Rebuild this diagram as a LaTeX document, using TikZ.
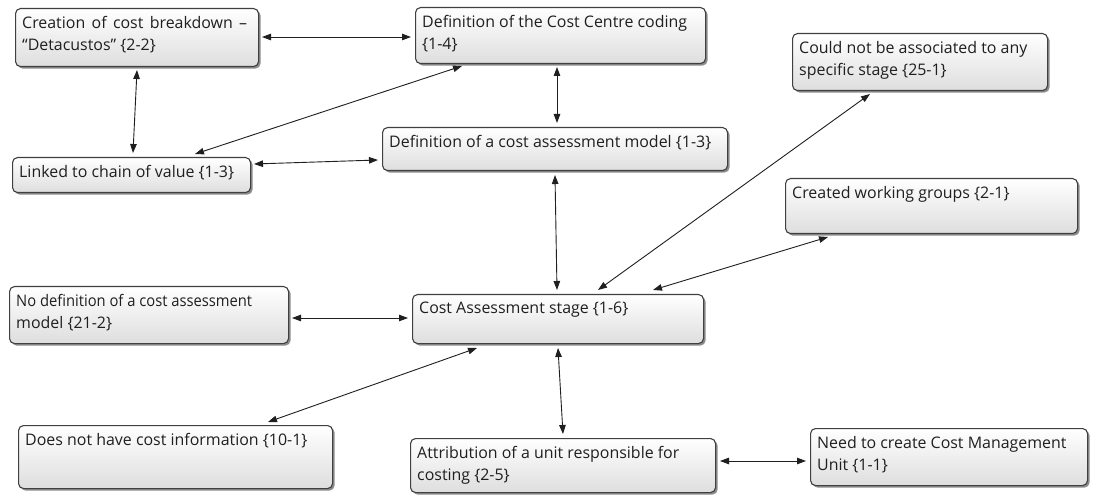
\documentclass[tikz,border=0pt]{standalone}
\usepackage{fontspec}
\setmainfont{Open Sans}
\usetikzlibrary{arrows.meta,shadows}
\tikzset{
  box/.style={draw=black!75, line width=1.1bp, rounded corners=5bp,
    top color=white, bottom color=black!13, inner sep=0pt, anchor=north west,
    drop shadow={shadow xshift=2bp, shadow yshift=-2bp, fill=black!60, opacity=0.75}},
  lbl/.style={anchor=north west, inner sep=0pt, align=left, text=black!88,
    font=\fontsize{16}{22}\selectfont},
  link/.style={{Triangle[length=9bp,width=6.5bp]}-{Triangle[length=9bp,width=6.5bp]},
    line width=0.9bp, draw=black!88},
}
% name, left, top, width, height, text
\newcommand\cbox[6]{%
  \node[box, minimum width=#4bp, minimum height=#5bp] (#1) at (#2,#3) {};
  \node[lbl] (#1-t) at ([shift={(7,8)}]#1.north west) {#6};
}
\begin{document}
\begin{tikzpicture}[x=1bp,y=-1bp]
\useasboundingbox[fill=white] (0,0) rectangle (1095,499);

\cbox{crea}{15}{8}{243}{58}{\makebox[225bp][s]{Creation of cost breakdown --}\\``Detacustos'' \{2-2\}}
\cbox{link}{12}{157}{238}{35}{Linked to chain of value \{1-3\}}
\cbox{ccc}{415}{7}{290}{56}{Definition of the Cost Centre coding\\\{1-4\}}
\cbox{dcam}{382}{127}{345}{43}{Definition of a cost assessment model \{1-3\}}
\cbox{cnb}{792}{33}{255}{57}{Could not be associated to any\\specific stage \{25-1\}}
\cbox{cwg}{785}{178}{292}{55}{Created working groups \{2-1\}}
\cbox{nodef}{9}{286}{279}{57}{\scalebox{0.925}[1]{No definition of a cost assessment}\\model \{21-2\}}
\cbox{cas}{412}{294}{291}{49}{Cost Assessment stage \{1-6\}}
\cbox{dnh}{18}{425}{314}{63}{Does not have cost information \{10-1\}}
\cbox{attr}{410}{438}{305}{54}{Attribution of a unit responsible for\\costing \{2-5\}}
\cbox{need}{810}{428}{277}{57}{Need to create Cost Management\\Unit \{1-1\}}

\draw[link] ([shift={(247,29)}]crea.north west) -- ([shift={(-4,30)}]ccc.north west);
\draw[link] ([shift={(122,62)}]crea.north west) -- ([shift={(121,-4)}]link.north west);
\draw[link] ([shift={(47,59)}]ccc.north west) -- ([shift={(183,-3)}]link.north west);
\draw[link] ([shift={(142,60)}]ccc.north west) -- ([shift={(175,-4)}]dcam.north west);
\draw[link] ([shift={(242,7)}]link.north west) -- ([shift={(-4,33)}]dcam.north west);
\draw[link] ([shift={(173,48)}]dcam.north west) -- ([shift={(145,-4)}]cas.north west);
\draw[link] ([shift={(78,61)}]cnb.north west) -- ([shift={(186,-4)}]cas.north west);
\draw[link] ([shift={(43,59)}]cwg.north west) -- ([shift={(241,-4)}]cas.north west);
\draw[link] ([shift={(283,32)}]nodef.north west) -- ([shift={(-4,24)}]cas.north west);
\draw[link] ([shift={(250,-3)}]dnh.north west) -- ([shift={(65,54)}]cas.north west);
\draw[link] ([shift={(146,54)}]cas.north west) -- ([shift={(153,-4)}]attr.north west);
\draw[link] ([shift={(310,23)}]attr.north west) -- ([shift={(-4,33)}]need.north west);
\end{tikzpicture}
\end{document}
